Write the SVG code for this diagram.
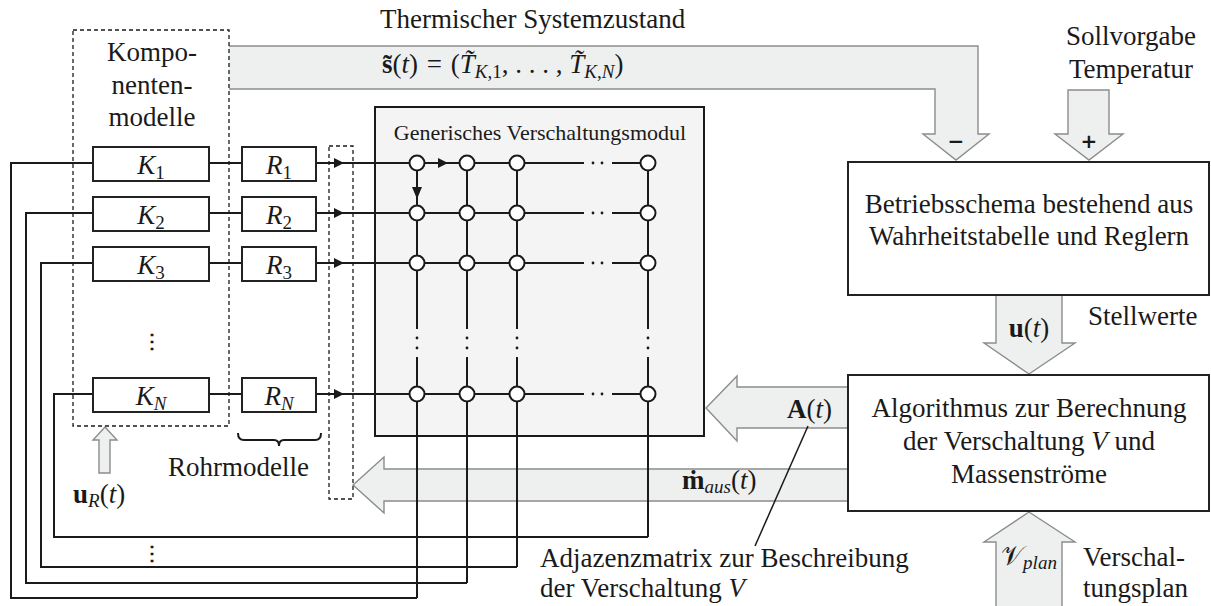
<svg xmlns="http://www.w3.org/2000/svg" width="1211" height="606" viewBox="0 0 1211 606">
<style>
text{font-family:"Liberation Serif","Times New Roman",serif;fill:#1a1a1a}
.t27{font-size:27px}
.t22{font-size:22px}
.mid{text-anchor:middle}
.it{font-style:italic}
.b{font-weight:bold}
.box{fill:#fff;stroke:#222;stroke-width:2}
.ln{fill:none;stroke:#1a1a1a;stroke-width:2}
.thin{fill:none;stroke:#1a1a1a;stroke-width:1.5}
.dash{fill:none;stroke:#1a1a1a;stroke-width:1.3;stroke-dasharray:4 3}
.garrow{fill:#eef0ef;stroke:#8c8c8c;stroke-width:1.4}
.node{fill:#fff;stroke:#1a1a1a;stroke-width:2}
.dot{fill:#1a1a1a}
.sign{font-family:"DejaVu Sans","Liberation Sans",sans-serif;font-weight:bold;font-size:20px;text-anchor:middle}
</style>
<defs>
<path id="ahR" d="M-10,-5 L0,0 L-10,5 Z" fill="#1a1a1a"/>
<path id="ahD" d="M-5,-12 L0,0 L5,-12 Z" fill="#1a1a1a"/>
</defs>

<!-- big gray arrows -->
<g id="arrow-state">
<path class="garrow" d="M229,46 H978 V134 H989 L956,160 L923,134 H935 V89 H229"/>
<text class="t27" x="380" y="28">Thermischer Systemzustand</text>
<text class="t27" x="382" y="73"><tspan class="b">s̃</tspan>(<tspan class="it">t</tspan>) <tspan dx="2">=</tspan> <tspan dx="2">(</tspan><tspan class="it">T̃</tspan><tspan font-size="19" dy="5"><tspan class="it">K</tspan>,1</tspan><tspan dy="-5">, . . . , </tspan><tspan class="it">T̃</tspan><tspan font-size="19" dy="5"><tspan class="it">K</tspan>,<tspan class="it">N</tspan></tspan><tspan dy="-5">)</tspan></text>
<text class="sign" x="956" y="148">−</text>
</g>
<g id="arrow-soll">
<path class="garrow" d="M1068,90 H1109 V134 H1123 L1089,160 L1055,134 H1068 Z"/>
<text class="sign" x="1089" y="148">+</text>
<text class="t27 mid" x="1131" y="45">Sollvorgabe</text>
<text class="t27 mid" x="1131" y="78">Temperatur</text>
</g>
<g id="arrow-u">
<path class="garrow" d="M996,296 V343 H984 L1029,374 L1075,343 H1062 V296"/>
<text class="t27 mid" x="1029" y="337"><tspan class="b">u</tspan>(<tspan class="it">t</tspan>)</text>
<text class="t27" x="1088" y="325">Stellwerte</text>
</g>
<g id="arrow-A">
<path class="garrow" d="M848,387 H737 V376 L706,408 L737,441 V428 H848"/>
<text class="t27" x="787" y="418"><tspan class="b">A</tspan>(<tspan class="it">t</tspan>)</text>
</g>
<g id="arrow-m">
<path class="garrow" d="M848,469 H384 V457 L353,485 L384,513 V501 H848"/>
<text class="t27" x="682" y="489"><tspan class="b">ṁ</tspan><tspan class="it" font-size="19" dy="4">aus</tspan><tspan dy="-4">(</tspan><tspan class="it">t</tspan>)</text>
</g>
<g id="arrow-vplan">
<path class="garrow" d="M996,607 V542 H984 L1029,512 L1075,542 H1062 V607"/>
<text class="t27 mid" x="1029" y="565"><tspan font-family="'DejaVu Serif','Liberation Serif',serif">𝒱</tspan><tspan class="it" font-size="19" dy="4">plan</tspan></text>
<text class="t27" x="1083" y="566">Verschal-</text>
<text class="t27" x="1083" y="597">tungsplan</text>
</g>
<g id="arrow-uR">
<path class="garrow" d="M99,473 V440 H93 L105,427 L117,440 H110 V473 Z"/>
<text class="t27" x="73" y="503"><tspan class="b">u</tspan><tspan class="it" font-size="19" dy="4">R</tspan><tspan dy="-4">(</tspan><tspan class="it">t</tspan>)</text>
</g>

<!-- generic module box -->
<g id="module">
<rect x="375" y="107" width="329" height="329" fill="#f3f4f3" stroke="#1a1a1a" stroke-width="2"/>
<text class="t22 mid" x="540" y="140">Generisches Verschaltungsmodul</text>
</g>

<!-- connectors -->
<g id="connectors">
<path class="ln" d="M209,163 H242 M209,213 H242 M209,263 H242 M209,394 H242"/>
<path class="ln" d="M316,163 H584 M612,163 H648 M316,213 H584 M612,213 H648 M316,263 H584 M612,263 H648 M316,394 H584 M612,394 H648"/>
<use href="#ahR" x="344" y="163"/>
<use href="#ahR" x="344" y="213"/>
<use href="#ahR" x="344" y="263"/>
<use href="#ahR" x="344" y="394"/>
<use href="#ahR" x="448" y="163"/>
<use href="#ahD" x="417" y="199"/>
<path class="ln" d="M417,163 V329 M417,357 V598 M467,163 V329 M467,357 V583 M517,163 V329 M517,357 V567 M648,163 V329 M648,357 V537"/>
<path class="ln" d="M93,163 H11 V598 H417"/>
<path class="ln" d="M93,213 H26 V583 H467"/>
<path class="ln" d="M93,263 H41 V567 H517"/>
<path class="ln" d="M93,394 H54 V537 H648"/>
<g class="dot">
<circle cx="593" cy="163" r="1.4"/><circle cx="602" cy="163" r="1.4"/>
<circle cx="593" cy="213" r="1.4"/><circle cx="602" cy="213" r="1.4"/>
<circle cx="593" cy="263" r="1.4"/><circle cx="602" cy="263" r="1.4"/>
<circle cx="593" cy="394" r="1.4"/><circle cx="602" cy="394" r="1.4"/>
<circle cx="417" cy="338" r="1.4"/><circle cx="417" cy="348" r="1.4"/>
<circle cx="467" cy="338" r="1.4"/><circle cx="467" cy="348" r="1.4"/>
<circle cx="517" cy="338" r="1.4"/><circle cx="517" cy="348" r="1.4"/>
<circle cx="648" cy="338" r="1.4"/><circle cx="648" cy="348" r="1.4"/>
</g>
<path class="thin" d="M808,426 L755,546"/>
<path class="ln" d="M238,433 Q238,440 244,440 H274 Q279,440 279,446 Q279,440 284,440 H315 Q321,440 321,433"/>
</g>

<!-- grid nodes -->
<g id="grid-nodes">
<circle class="node" cx="417" cy="163" r="7.5"/><circle class="node" cx="467" cy="163" r="7.5"/><circle class="node" cx="517" cy="163" r="7.5"/><circle class="node" cx="648" cy="163" r="7.5"/>
<circle class="node" cx="417" cy="213" r="7.5"/><circle class="node" cx="467" cy="213" r="7.5"/><circle class="node" cx="517" cy="213" r="7.5"/><circle class="node" cx="648" cy="213" r="7.5"/>
<circle class="node" cx="417" cy="263" r="7.5"/><circle class="node" cx="467" cy="263" r="7.5"/><circle class="node" cx="517" cy="263" r="7.5"/><circle class="node" cx="648" cy="263" r="7.5"/>
<circle class="node" cx="417" cy="394" r="7.5"/><circle class="node" cx="467" cy="394" r="7.5"/><circle class="node" cx="517" cy="394" r="7.5"/><circle class="node" cx="648" cy="394" r="7.5"/>
</g>

<!-- component models -->
<g id="K1"><rect class="box" x="93" y="147" width="116" height="34"/><text class="t27 mid" x="151" y="174"><tspan class="it">K</tspan><tspan font-size="19" dy="5">1</tspan></text></g>
<g id="K2"><rect class="box" x="93" y="197" width="116" height="34"/><text class="t27 mid" x="151" y="224"><tspan class="it">K</tspan><tspan font-size="19" dy="5">2</tspan></text></g>
<g id="K3"><rect class="box" x="93" y="247" width="116" height="34"/><text class="t27 mid" x="151" y="274"><tspan class="it">K</tspan><tspan font-size="19" dy="5">3</tspan></text></g>
<g id="KN"><rect class="box" x="93" y="378" width="116" height="34"/><text class="t27 mid" x="151" y="405"><tspan class="it">K</tspan><tspan class="it" font-size="19" dy="5">N</tspan></text></g>

<!-- pipe models -->
<g id="R1"><rect class="box" x="242" y="147" width="74" height="34"/><text class="t27 mid" x="279" y="174"><tspan class="it">R</tspan><tspan font-size="19" dy="5">1</tspan></text></g>
<g id="R2"><rect class="box" x="242" y="197" width="74" height="34"/><text class="t27 mid" x="279" y="224"><tspan class="it">R</tspan><tspan font-size="19" dy="5">2</tspan></text></g>
<g id="R3"><rect class="box" x="242" y="247" width="74" height="34"/><text class="t27 mid" x="279" y="274"><tspan class="it">R</tspan><tspan font-size="19" dy="5">3</tspan></text></g>
<g id="RN"><rect class="box" x="242" y="378" width="74" height="34"/><text class="t27 mid" x="279" y="405"><tspan class="it">R</tspan><tspan class="it" font-size="19" dy="5">N</tspan></text></g>

<g id="komponenten">
<rect class="dash" x="73" y="30" width="156" height="396"/>
<text class="t27 mid" x="152" y="61">Kompo-</text>
<text class="t27 mid" x="152" y="94">nenten-</text>
<text class="t27 mid" x="152" y="126">modelle</text>
<text class="mid" x="152" y="348" font-family="DejaVu Sans,sans-serif" font-size="20" font-weight="bold">⋮</text>
<text class="mid" x="152" y="560" font-family="DejaVu Sans,sans-serif" font-size="20" font-weight="bold">⋮</text>
</g>
<g id="rohrmodelle">
<rect class="dash" x="329" y="146" width="24" height="353"/>
<text class="t27" x="168" y="476">Rohrmodelle</text>
</g>

<g id="betriebsschema">
<rect class="box" x="848" y="162" width="361" height="133"/>
<text class="t27 mid" x="1029" y="213">Betriebsschema bestehend aus</text>
<text class="t27 mid" x="1029" y="245">Wahrheitstabelle und Reglern</text>
</g>
<g id="algorithmus">
<rect class="box" x="848" y="375" width="361" height="136"/>
<text class="t27 mid" x="1029" y="417">Algorithmus zur Berechnung</text>
<text class="t27 mid" x="1029" y="450">der Verschaltung <tspan class="it">V</tspan> und</text>
<text class="t27 mid" x="1029" y="483">Massenströme</text>
</g>
<g id="adjazenz-label">
<text class="t27" x="540" y="567">Adjazenzmatrix zur Beschreibung</text>
<text class="t27" x="540" y="597">der Verschaltung <tspan class="it">V</tspan></text>
</g>
</svg>
